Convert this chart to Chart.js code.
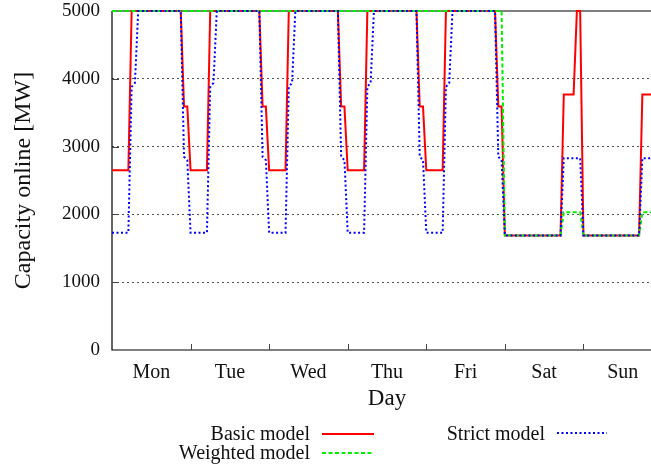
<!DOCTYPE html>
<html>
<head>
<meta charset="utf-8">
<script src="https://cdn.jsdelivr.net/npm/chart.js@4.4.1/dist/chart.umd.min.js"></script>
<style>
    html, body { margin: 0; padding: 0; background: #fff; overflow: hidden; }
    #wrap { width: 690px; height: 468px; }
</style>
</head>
<body>
<div id="wrap"><canvas id="capacityChart" width="690" height="468"></canvas></div>
<script>
// hour of the week (0 = Monday 00:00) and online capacity in MW at each corner of the curves
const dayLabels = ["Mon", "Tue", "Wed", "Thu", "Fri", "Sat", "Sun"];

const basicHours = [0, 5, 6, 21, 22, 23, 24, 29, 30, 45, 46, 47, 48, 53, 54, 69, 70, 71, 72,
    77, 78, 93, 94, 95, 96, 101, 102, 117, 118, 119, 120, 137, 138, 141, 142, 143, 144,
    161, 162, 165, 166, 167, 168];
const basicMW = [2650, 2650, 5000, 5000, 3590, 3590, 2650, 2650, 5000, 5000, 3590, 3590, 2650, 2650, 5000, 5000, 3590, 3590, 2650,
    2650, 5000, 5000, 3590, 3590, 2650, 2650, 5000, 5000, 3590, 3590, 1690, 1690, 3770, 3770, 5000, 5000, 1690,
    1690, 3770, 3770, 5000, 5000, 1690];

const weightedHours = [0, 119, 120, 137, 138, 143, 144, 161, 162, 167, 168];
const weightedMW = [5000, 5000, 1690, 1690, 2030, 2030, 1690, 1690, 2030, 2030, 1690];

const strictHours = [0, 5, 6, 7, 8, 21, 22, 23, 24, 29, 30, 31, 32, 45, 46, 47, 48,
    53, 54, 55, 56, 69, 70, 71, 72, 77, 78, 79, 80, 93, 94, 95, 96,
    101, 102, 103, 104, 117, 118, 119, 120, 137, 138, 143, 144, 161, 162, 167, 168];
const strictMW = [1730, 1730, 3880, 3940, 5000, 5000, 2850, 2800, 1730, 1730, 3880, 3940, 5000, 5000, 2850, 2800, 1730,
    1730, 3880, 3940, 5000, 5000, 2850, 2800, 1730, 1730, 3880, 3940, 5000, 5000, 2850, 2800, 1730,
    1730, 3880, 3940, 5000, 5000, 2850, 2800, 1690, 1690, 2830, 2830, 1690, 1690, 2830, 2830, 1690];

const yTicks = [0, 1000, 2000, 3000, 4000, 5000];

const FONT = "'Liberation Serif', 'Times New Roman', serif";
const TEXT = "#111";

function toPoints(hours, values) {
    return hours.map((h, i) => ({ x: h, y: values[i] }));
}

// plot frame with gnuplot-like inward tics
const framePlugin = {
    id: "frame",
    beforeDatasetsDraw(chart) {
        const { ctx, chartArea, scales } = chart;
        ctx.save();
        ctx.strokeStyle = "#000";
        ctx.lineWidth = 1.2;
        ctx.beginPath();
        ctx.moveTo(chartArea.left, chartArea.top);
        ctx.lineTo(chartArea.right, chartArea.top);
        ctx.moveTo(chartArea.left, chartArea.top);
        ctx.lineTo(chartArea.left, chartArea.bottom);
        ctx.lineTo(chartArea.right, chartArea.bottom);
        ctx.stroke();

        ctx.strokeStyle = "#444";
        ctx.lineWidth = 1;
        ctx.beginPath();
        for (let d = 1; d < dayLabels.length; d++) {
            const x = Math.round(scales.x.getPixelForValue(d * 24)) + 0.5;
            ctx.moveTo(x, chartArea.bottom);
            ctx.lineTo(x, chartArea.bottom - 6);
        }
        yTicks.slice(1, -1).forEach(v => {
            const y = Math.round(scales.y.getPixelForValue(v)) + 0.5;
            ctx.moveTo(chartArea.left, y);
            ctx.lineTo(chartArea.left + 7, y);
        });
        ctx.stroke();
        ctx.restore();
    }
};

// key below the plot: label text right-aligned, line sample to its right
const keyPlugin = {
    id: "key",
    afterDraw(chart) {
        const { ctx } = chart;
        const slots = [
            { ds: 0, textRight: 310, baseline: 440, y: 434, x0: 322, x1: 374 },
            { ds: 1, textRight: 310, baseline: 459, y: 453, x0: 322, x1: 374 },
            { ds: 2, textRight: 545, baseline: 440, y: 433, x0: 557, x1: 607 }
        ];
        ctx.save();
        ctx.font = "20px " + FONT;
        ctx.fillStyle = TEXT;
        ctx.textAlign = "right";
        ctx.textBaseline = "alphabetic";
        slots.forEach(s => {
            const ds = chart.data.datasets[s.ds];
            ctx.fillText(ds.label, s.textRight, s.baseline);
            ctx.strokeStyle = ds.borderColor;
            ctx.lineWidth = ds.borderWidth;
            ctx.setLineDash(ds.borderDash || []);
            ctx.beginPath();
            ctx.moveTo(s.x0, s.y);
            ctx.lineTo(s.x1, s.y);
            ctx.stroke();
        });
        ctx.restore();
    }
};

new Chart(document.getElementById("capacityChart"), {
    type: "line",
    data: {
        datasets: [
            {
                label: "Basic model",
                data: toPoints(basicHours, basicMW),
                borderColor: "#ff0000",
                borderWidth: 2,
                clip: false,
                order: 3
            },
            {
                label: "Weighted model",
                data: toPoints(weightedHours, weightedMW),
                borderColor: "#00f000",
                borderWidth: 2,
                borderDash: [4, 2.5],
                clip: false,
                order: 2
            },
            {
                label: "Strict model",
                data: toPoints(strictHours, strictMW),
                borderColor: "#0000ff",
                borderWidth: 2,
                borderDash: [2, 2.5],
                clip: false,
                order: 1
            }
        ]
    },
    options: {
        responsive: false,
        animation: false,
        devicePixelRatio: 1,
        layout: { padding: { left: 0, top: 11, right: 28, bottom: 53 } },
        elements: { point: { radius: 0 }, line: { tension: 0, fill: false } },
        plugins: {
            legend: { display: false },
            tooltip: { enabled: false }
        },
        scales: {
            x: {
                type: "linear",
                min: 0,
                max: 168,
                afterFit(scale) {
                    scale.height = 65;
                    scale.paddingLeft = 0;
                    scale.paddingRight = 0;
                },
                afterBuildTicks(scale) {
                    scale.ticks = dayLabels.map((d, i) => ({ value: 12 + 24 * i }));
                },
                ticks: {
                    autoSkip: false,
                    maxRotation: 0,
                    padding: 3,
                    color: TEXT,
                    font: { family: FONT, size: 20 },
                    callback: (value, index) => dayLabels[index]
                },
                grid: { display: false },
                border: { display: false },
                title: {
                    display: true,
                    text: "Day",
                    color: TEXT,
                    font: { family: FONT, size: 23 },
                    padding: { top: 0, bottom: 2 }
                }
            },
            y: {
                min: 0,
                max: 5000,
                afterFit(scale) {
                    scale.width = 112;
                    scale.paddingTop = 0;
                    scale.paddingBottom = 0;
                },
                afterBuildTicks(scale) {
                    scale.ticks = yTicks.map(v => ({ value: v }));
                },
                ticks: {
                    padding: 12,
                    color: TEXT,
                    font: { family: FONT, size: 19, lineHeight: 1 },
                    callback: value => String(value)
                },
                grid: {
                    drawTicks: false,
                    lineWidth: 1,
                    color: ctx => (ctx.tick && (ctx.tick.value === 0 || ctx.tick.value === 5000)) ? "rgba(0,0,0,0)" : "#555"
                },
                border: { display: false, dash: [2, 3] },
                title: {
                    display: true,
                    text: "Capacity online [MW]",
                    color: TEXT,
                    font: { family: FONT, size: 24 },
                    padding: { top: 9, bottom: 0 }
                }
            }
        }
    },
    plugins: [framePlugin, keyPlugin]
});
</script>
</body>
</html>
